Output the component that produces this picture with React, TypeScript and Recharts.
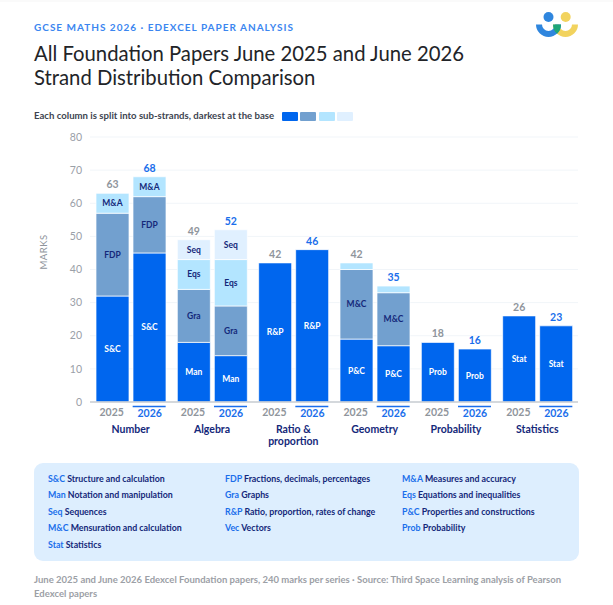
import { Bar, BarChart, CartesianGrid, LabelList, XAxis, YAxis } from 'recharts';

const FONT = 'Lato, sans-serif';

const strands = ['Number', 'Algebra', 'Ratio & proportion', 'Geometry', 'Probability', 'Statistics'];
const yTicks = [0, 10, 20, 30, 40, 50, 60, 70, 80];

// one array per shade, darkest first
const marks2025 = [
  [32, 18, 42, 19, 18, 26],
  [25, 16, 0, 21, 0, 0],
  [6, 9, 0, 2, 0, 0],
  [0, 6, 0, 0, 0, 0],
];
const marks2026 = [
  [45, 14, 46, 17, 16, 23],
  [17, 15, 0, 16, 0, 0],
  [6, 14, 0, 2, 0, 0],
  [0, 9, 0, 0, 0, 0],
];
const tierNames = [
  ['S&C', 'Man', 'R&P', 'P&C', 'Prob', 'Stat'],
  ['FDP', 'Gra', '', 'M&C', '', ''],
  ['M&A', 'Eqs', '', '', '', ''],
  ['', 'Seq', '', '', '', ''],
];
const totals2025 = [63, 49, 42, 42, 18, 26];
const totals2026 = [68, 52, 46, 35, 16, 23];

const tierColors = ['#0066EE', '#72A0CF', '#B3E5FF', '#E0F0FF'];
const tierText = ['#FFFFFF', '#14287A', '#14287A', '#14287A'];

const glossary = [
  ['S&C', 'Structure and calculation'],
  ['FDP', 'Fractions, decimals, percentages'],
  ['M&A', 'Measures and accuracy'],
  ['Man', 'Notation and manipulation'],
  ['Gra', 'Graphs'],
  ['Eqs', 'Equations and inequalities'],
  ['Seq', 'Sequences'],
  ['R&P', 'Ratio, proportion, rates of change'],
  ['P&C', 'Properties and constructions'],
  ['M&C', 'Mensuration and calculation'],
  ['Vec', 'Vectors'],
  ['Prob', 'Probability'],
  ['Stat', 'Statistics'],
];

// the total label belongs to the last non-empty shade of a column
function topTier(marks: number[][], i: number) {
  return marks.reduce((last, tier, t) => (tier[i] > 0 ? t : last), 0);
}

const rows = strands.map((strand, i) => {
  const row: Record<string, string | number> = { strand };
  tierNames.forEach((names, t) => {
    row[`y2025_${t}`] = marks2025[t][i];
    row[`y2026_${t}`] = marks2026[t][i];
    row[`name_${t}`] = names[i];
    row[`total2025_${t}`] = topTier(marks2025, i) === t ? totals2025[i] : '';
    row[`total2026_${t}`] = topTier(marks2026, i) === t ? totals2026[i] : '';
  });
  return row;
});

function StrandTick({ x, y, payload }: any) {
  const lines = payload.value === 'Ratio & proportion' ? ['Ratio &', 'proportion'] : [payload.value];
  return (
    <g fontFamily={FONT} textAnchor="middle">
      <text x={x - 19} y={y + 6} fontSize={10.5} fontWeight={700} fill="#8F959C">2025</text>
      <line x1={x + 2} x2={x + 35} y1={y - 3.5} y2={y - 3.5} stroke="#1A6EEB" strokeWidth={1.5} />
      <text x={x + 19} y={y + 7} fontSize={10.5} fontWeight={700} fill="#1A6EEB">2026</text>
      {lines.map((line: string, i: number) => (
        <text key={line} x={x} y={y + 23 + i * 12} fontSize={10.5} fontWeight={700} fill="#14287A">{line}</text>
      ))}
    </g>
  );
}

function yearBars(year: string, totalColor: string) {
  return tierColors.map((color, t) => (
    <Bar
      key={`${year}_${t}`}
      dataKey={`y${year}_${t}`}
      stackId={year}
      fill={color}
      stroke="#FFFFFF"
      strokeOpacity={0.7}
      strokeWidth={1}
      isAnimationActive={false}
    >
      <LabelList dataKey={`name_${t}`} position="center" fill={tierText[t]} fontSize={8.5} fontWeight={700} fontFamily={FONT} />
      <LabelList dataKey={`total${year}_${t}`} position="top" offset={5} fill={totalColor} fontSize={10.5} fontWeight={700} fontFamily={FONT} />
    </Bar>
  ));
}

function Logo() {
  return (
    <svg width={70} height={50} style={{ position: 'absolute', left: 525, top: 0 }}>
      <circle cx={23.5} cy={17} r={5} fill="#2F86DE" />
      <circle cx={40.7} cy={17} r={5} fill="#F2D35E" />
      <path d="M28 24.5 H53 A12.5 12.5 0 0 1 28 24.5 Z M34 24.5 A6.5 6.5 0 0 0 47 24.5 Z" fill="#F2D35E" fillRule="evenodd" />
      <path d="M11 24.5 H36 A12.5 12.5 0 0 1 11 24.5 Z M17 24.5 A6.5 6.5 0 0 0 30 24.5 Z" fill="#2F86DE" fillRule="evenodd" />
      <path d="M28 24.5 H36 A12.5 12.5 0 0 1 32 33.8 A12.5 12.5 0 0 1 28 24.5 Z" fill="#1FA678" />
    </svg>
  );
}

export default function App() {
  return (
    <div style={{ position: 'absolute', left: 0, top: 0, width: 613, height: 605, background: '#FFFFFF', fontFamily: FONT, overflow: 'hidden' }}>
      <div style={{ position: 'absolute', left: 0, top: 0, width: 613, height: 2, background: '#FAFAFA' }} />
      <div style={{ position: 'absolute', left: 34, top: 21, fontSize: 10, fontWeight: 700, letterSpacing: 1, color: '#3B86F0', whiteSpace: 'nowrap' }}>
        GCSE MATHS 2026 · EDEXCEL PAPER ANALYSIS
      </div>
      <div style={{ position: 'absolute', left: 34, top: 41, fontSize: 20.3, lineHeight: '24px', fontWeight: 400, color: '#222428', whiteSpace: 'nowrap' }}>
        All Foundation Papers June 2025 and June 2026
        <br />
        Strand Distribution Comparison
      </div>
      <Logo />
      <div style={{ position: 'absolute', left: 34, top: 110, fontSize: 9.6, fontWeight: 700, color: '#3D4450', whiteSpace: 'nowrap' }}>
        Each column is split into sub-strands, darkest at the base
      </div>
      {tierColors.map((color, i) => (
        <div key={color} style={{ position: 'absolute', left: 281.5 + i * 18.6, top: 112, width: 16, height: 9, background: color, borderRadius: 1 }} />
      ))}

      <div style={{ position: 'absolute', left: 0, top: 125 }}>
        <BarChart
          width={613}
          height={330}
          data={rows}
          margin={{ top: 12, right: 35, bottom: 0, left: 0 }}
          barSize={33}
          barGap={4}
        >
          <CartesianGrid vertical={false} stroke="#F1F5F9" />
          <XAxis
            dataKey="strand"
            height={53}
            interval={0}
            tickLine={false}
            axisLine={{ stroke: '#C9CDD2', strokeWidth: 1.5 }}
            tick={<StrandTick />}
          />
          <YAxis
            width={90}
            domain={[0, 80]}
            ticks={yTicks}
            axisLine={false}
            tickLine={false}
            tick={{ fontSize: 10.5, fill: '#9AA0A8', fontFamily: FONT }}
            label={{ value: 'MARKS', angle: -90, position: 'insideLeft', offset: 44, fontSize: 9.5, fontWeight: 400, letterSpacing: 0.5, fill: '#8F959C', fontFamily: FONT }}
          />
          {yearBars('2025', '#8F959C')}
          {yearBars('2026', '#1A6EEB')}
        </BarChart>
      </div>

      <div style={{ position: 'absolute', left: 34, top: 463, width: 545, height: 98, background: '#DDEEFE', borderRadius: 9 }}>
        {glossary.map(([code, text], i) => (
          <div
            key={code}
            style={{
              position: 'absolute',
              left: 14 + (i % 3) * 177,
              top: 9 + Math.floor(i / 3) * 16.4,
              fontSize: 8.8,
              lineHeight: '13px',
              fontWeight: 700,
              color: '#14287A',
              whiteSpace: 'nowrap',
            }}
          >
            <span style={{ color: '#1A6EEB' }}>{code}</span> {text}
          </div>
        ))}
      </div>

      <div style={{ position: 'absolute', left: 34, top: 573, width: 545, fontSize: 9.5, lineHeight: '14px', fontWeight: 700, color: '#9CA0A6' }}>
        June 2025 and June 2026 Edexcel Foundation papers, 240 marks per series · Source: Third Space Learning analysis of Pearson Edexcel papers
      </div>
    </div>
  );
}
